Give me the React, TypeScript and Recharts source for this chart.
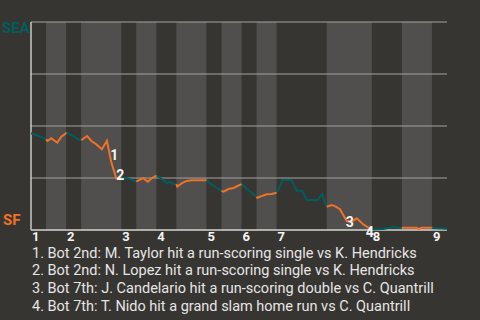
import { LineChart, Line, XAxis, YAxis, ReferenceArea, ReferenceLine, ReferenceDot } from "recharts";

// half-inning boundaries, in play index (top 1st starts at 0)
const halfStarts = [0, 3, 7, 10, 18, 21, 25, 29, 35, 38, 42, 45, 49, 59, 68, 74, 80, 83];
const inningLabels = ["1", "2", "3", "4", "5", "6", "7", "8", "9"];

// win probability line (SEA %, 100 = top)
const playX = [
  0, 1, 2, 3,
  3.3, 4.05, 4.5, 5.25, 6.05, 6.85, 7,
  8.4, 9.4, 10,
  10.25, 11.2, 12.05, 13, 14.15, 15.15, 16, 17, 18,
  19.1, 20.3, 21,
  21.95, 22.4, 23.3, 24.1, 24.9, 25,
  26.1, 27.1, 27.7, 28.4, 29,
  29.2, 30.1, 31.1, 32.05, 34.5, 35,
  35.7, 36.7, 38,
  38.4, 39.4, 40.4, 41.4, 42,
  43.35, 44.35, 45,
  45.15, 46, 47, 48, 49,
  49.35, 50.15, 52, 53, 54.1, 55, 57.2, 58.1, 58.65, 59,
  60, 60.65, 61.65, 62.3, 63, 64, 65, 66.3, 67.5, 68,
  70.3, 72, 73, 74,
  74.2, 76.95, 77.3, 77.95, 79.95, 80,
  83,
];
const seaWinPct = [
  46.5, 45.7, 44.9, 43.6,
  42.8, 44.1, 43.3, 42.0, 44.9, 46.2, 46.9,
  45.2, 43.6, 43.3,
  43.6, 45.2, 42.8, 41.2, 38.8, 42.9, 32.8, 24.9, 25.5,
  24.9, 24.0, 23.2,
  24.5, 24.9, 23.2, 24.9, 26.0, 26.3,
  24.5, 22.5, 23.2, 22.0, 22.1,
  20.8, 22.5, 23.6, 23.9, 23.9, 24.0,
  22.5, 20.8, 18.8,
  18.4, 19.7, 20.2, 21.4, 22.1,
  19.2, 17.3, 16.0,
  15.5, 16.3, 17.2, 17.3, 17.9,
  19.2, 24.0, 24.0, 18.9, 18.9, 14.4, 14.4, 17.3, 12.8, 11.2,
  12.0, 11.5, 10.0, 7.2, 4.3, 4.0, 5.6, 2.7, 0.8, 0.3,
  0.5, 1.3, 1.3, 0.8,
  1.1, 1.1, 0.5, 1.1, 1.1, 1.0,
  0.6,
];

// key plays
const eventX = [16, 17, 63, 68];
const eventText = [
  "1. Bot 2nd: M. Taylor hit a run-scoring single vs K. Hendricks",
  "2. Bot 2nd: N. Lopez hit a run-scoring single vs K. Hendricks",
  "3. Bot 7th: J. Candelario hit a run-scoring double vs C. Quantrill",
  "4. Bot 7th: T. Nido hit a grand slam home run vs C. Quantrill",
];
const labelNudge = [
  [3, -7],
  [4, -3],
  [3, 1],
  [-2, 3],
];

const SEA = "#005e5e";
const SF = "#f07226";
const BG = "#373531";
const BAND = "#504f4d";
const FONT = "Roboto, sans-serif";

// split the line by who is batting: top halves SEA, bottom halves SF
const data = playX.map((x, i) => {
  const row: { x: number; sea: number | null; sf: number | null } = { x, sea: null, sf: null };
  for (let h = 0; h < halfStarts.length - 1; h++) {
    if (x >= halfStarts[h] && x <= halfStarts[h + 1]) {
      if (h % 2 === 0) row.sea = seaWinPct[i];
      else row.sf = seaWinPct[i];
    }
  }
  return row;
});

const inningStarts = inningLabels.map((_, i) => halfStarts[i * 2]);
const bottomHalves = halfStarts.slice(0, -1).map((s, h) => [s, halfStarts[h + 1]]).filter((_, h) => h % 2 === 1);

const InningTick = (props: any) => {
  const idx = inningStarts.indexOf(props.payload.value);
  return (
    <text x={props.x + 1} y={props.y} dy="0.72em" fill="#f4f4f4" fontSize={13} fontWeight="bold" fontFamily={FONT}>
      {inningLabels[idx]}
    </text>
  );
};

export default function App() {
  return (
    <div style={{ position: "fixed", left: 0, top: 0, width: 480, height: 320, background: BG, overflow: "hidden" }}>
      <div style={{ position: "absolute", left: 0, top: 0 }}>
        <LineChart width={480} height={250} data={data} margin={{ top: 22, right: 33, left: 31, bottom: 6 }}>
          {bottomHalves.map(([a, b]) => (
            <ReferenceArea key={a} x1={a} x2={b} fill={BAND} fillOpacity={1} stroke="none" />
          ))}
          <XAxis
            dataKey="x"
            type="number"
            domain={[0, 83]}
            ticks={inningStarts}
            interval={0}
            height={14}
            axisLine={false}
            tickLine={false}
            tickSize={0}
            tickMargin={2}
            tick={<InningTick />}
          />
          <YAxis hide domain={[0, 100]} />
          {[25, 50, 75, 100].map((v) => (
            <ReferenceLine key={v} y={v} stroke="#a3a3a1" strokeWidth={1} />
          ))}
          <ReferenceLine y={0} stroke="#d4d4d2" strokeWidth={1.5} />
          <ReferenceLine x={0} stroke="#c8c8c6" strokeWidth={1.5} />
          <Line dataKey="sea" stroke={SEA} strokeWidth={2} dot={false} connectNulls={false} isAnimationActive={false} />
          <Line dataKey="sf" stroke={SF} strokeWidth={2} dot={false} connectNulls={false} isAnimationActive={false} />
          {eventX.map((ex, i) => (
            <ReferenceDot
              key={ex}
              x={ex}
              y={seaWinPct[playX.indexOf(ex)]}
              r={0}
              shape={(p: any) => (
                <text
                  x={p.cx + labelNudge[i][0]}
                  y={p.cy + labelNudge[i][1]}
                  dy="0.36em"
                  textAnchor="middle"
                  fill="#f6f6f6"
                  fontSize={14}
                  fontWeight="bold"
                  fontFamily={FONT}
                >
                  {i + 1}
                </text>
              )}
            />
          ))}
        </LineChart>
      </div>
      <svg width={480} height={320} style={{ position: "absolute", left: 0, top: 0, pointerEvents: "none" }}>
        <text x={2} y={33} fill={SEA} fontSize={15} fontWeight="bold" fontFamily={FONT}>SEA</text>
        <text x={3} y={225} fill={SF} fontSize={15} fontWeight="bold" fontFamily={FONT}>SF</text>
        {eventText.map((t, i) => (
          <text key={i} x={32} y={257.5 + i * 17.8} fill="#e6e6e6" fontSize={14.5} fontFamily={FONT}>
            {t}
          </text>
        ))}
      </svg>
    </div>
  );
}
